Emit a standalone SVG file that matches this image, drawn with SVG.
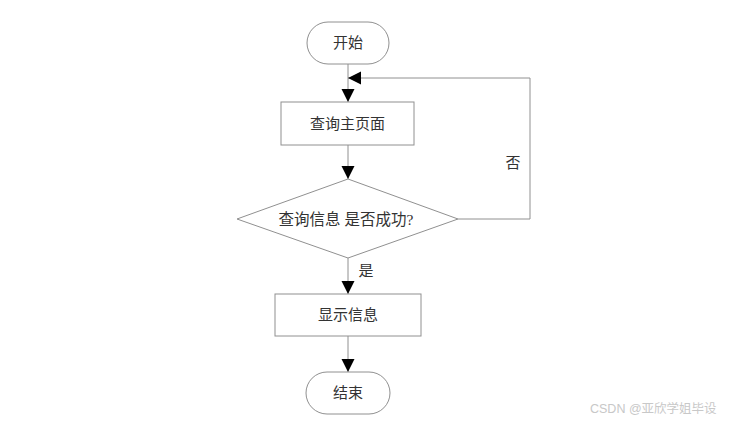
<svg xmlns="http://www.w3.org/2000/svg" width="729" height="421" viewBox="0 0 729 421">
<style>
.shape{fill:#fff;stroke:#909090;stroke-width:1}
.line{fill:none;stroke:#909090;stroke-width:1}
.t{font-family:"Liberation Serif","Noto Sans CJK SC",serif;font-size:15px;fill:#333;text-anchor:middle;dominant-baseline:central}
.wm{font-family:"Liberation Sans","Noto Sans CJK SC",sans-serif;font-size:12.5px;fill:#c8c8c8}
</style>
<defs>
<marker id="arr" markerUnits="userSpaceOnUse" markerWidth="14" markerHeight="14" viewBox="0 0 14 14" refX="13" refY="7" orient="auto">
<path d="M0,0.5 L13,7 L0,13.5 Z" fill="#000"/>
</marker>
</defs>
<rect width="729" height="421" fill="#fff"/>
<g id="connectors">
<line class="line" x1="348" y1="64" x2="348" y2="102" marker-end="url(#arr)"/>
<line class="line" x1="348" y1="145" x2="348" y2="179" marker-end="url(#arr)"/>
<line class="line" x1="348" y1="258" x2="348" y2="294" marker-end="url(#arr)"/>
<line class="line" x1="348" y1="336" x2="348" y2="372" marker-end="url(#arr)"/>
<polyline class="line" points="458,219 530,219 530,78 348,78" marker-end="url(#arr)"/>
<text class="t" x="513" y="163">否</text>
<text class="t" x="366" y="271">是</text>
</g>
<g id="start">
<rect class="shape" x="307" y="22" width="82" height="42" rx="21"/>
<text class="t" x="348" y="43">开始</text>
</g>
<g id="query">
<rect class="shape" x="281" y="102" width="133" height="43"/>
<text class="t" x="347.5" y="123.5">查询主页面</text>
</g>
<g id="decision">
<polygon class="shape" points="348,179 458,219 348,258 237,219"/>
<text class="t" x="346" y="219" style="font-size:15.5px">查询信息 是否成功?</text>
</g>
<g id="show">
<rect class="shape" x="275" y="294" width="146" height="42"/>
<text class="t" x="348" y="315">显示信息</text>
</g>
<g id="end">
<rect class="shape" x="306" y="372" width="84" height="42" rx="21"/>
<text class="t" x="348" y="393">结束</text>
</g>
<text class="wm" x="590" y="413">CSDN @亚欣学姐毕设</text>
</svg>
